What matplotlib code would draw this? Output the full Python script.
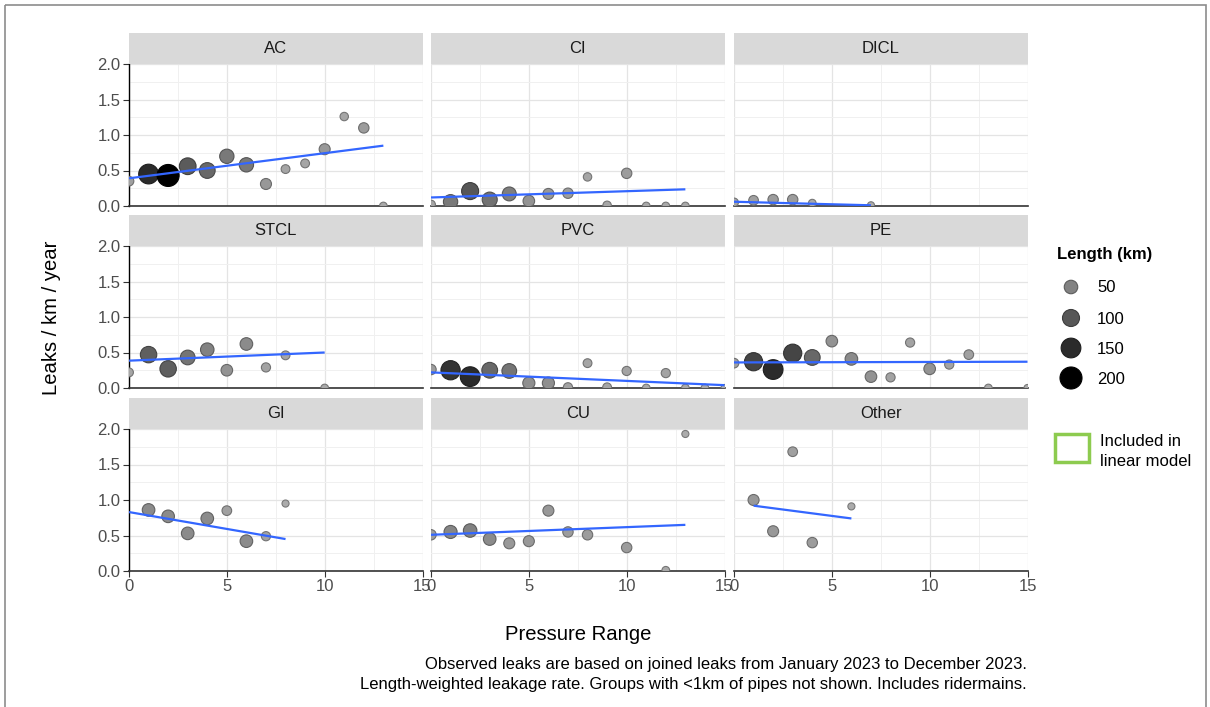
import numpy as np
import pandas as pd
import matplotlib
matplotlib.use("Agg")
import matplotlib.pyplot as plt
from matplotlib.patches import Rectangle
from matplotlib.ticker import FormatStrFormatter

plt.rcParams['font.family'] = ['Liberation Sans', 'DejaVu Sans']

# ---- leak rates by pipe material: pressure range, leaks/km/yr, length (km) ----
ac_x   = [0, 1, 2, 3, 4, 5, 6, 7, 8, 9, 10, 11, 12, 13]
ac_y   = [0.35, 0.45, 0.43, 0.56, 0.50, 0.70, 0.58, 0.31, 0.52, 0.60, 0.80, 1.26, 1.10, 0.0]
ac_len = [15, 150, 200, 95, 80, 60, 60, 25, 10, 10, 25, 8, 20, 5]

ci_x   = [0, 1, 2, 3, 4, 5, 6, 7, 8, 9, 10, 11, 12, 13]
ci_y   = [0.02, 0.06, 0.21, 0.09, 0.17, 0.07, 0.17, 0.18, 0.41, 0.01, 0.46, 0.0, 0.0, 0.0]
ci_len = [10, 60, 100, 70, 55, 30, 25, 20, 8, 8, 20, 5, 5, 5]

dicl_x   = [0, 1, 2, 3, 4, 7]
dicl_y   = [0.05, 0.08, 0.09, 0.09, 0.04, 0.01]
dicl_len = [10, 15, 20, 20, 5, 3]

stcl_x   = [0, 1, 2, 3, 4, 5, 6, 7, 8, 10]
stcl_y   = [0.22, 0.47, 0.27, 0.43, 0.54, 0.25, 0.62, 0.29, 0.46, 0.0]
stcl_len = [10, 90, 90, 65, 50, 30, 40, 12, 10, 5]

pvc_x   = [0, 1, 2, 3, 4, 5, 6, 7, 8, 9, 10, 11, 12, 13, 14, 15]
pvc_y   = [0.26, 0.25, 0.16, 0.25, 0.24, 0.07, 0.07, 0.01, 0.35, 0.01, 0.24, 0.0, 0.21, 0.0, 0.0, 0.0]
pvc_len = [20, 140, 150, 80, 65, 35, 35, 12, 10, 10, 12, 5, 12, 5, 5, 3]

pe_x   = [0, 1, 2, 3, 4, 5, 6, 7, 8, 9, 10, 11, 12, 13, 15]
pe_y   = [0.35, 0.37, 0.26, 0.49, 0.43, 0.66, 0.41, 0.16, 0.15, 0.64, 0.27, 0.33, 0.47, 0.0, 0.0]
pe_len = [15, 120, 150, 120, 80, 30, 40, 30, 12, 12, 30, 12, 15, 5, 3]

gi_x   = [1, 2, 3, 4, 5, 6, 7, 8]
gi_y   = [0.86, 0.77, 0.53, 0.74, 0.85, 0.42, 0.49, 0.95]
gi_len = [40, 40, 40, 40, 15, 40, 12, 3]

cu_x   = [0, 1, 2, 3, 4, 5, 6, 7, 8, 10, 12, 13]
cu_y   = [0.51, 0.55, 0.57, 0.45, 0.39, 0.42, 0.85, 0.55, 0.51, 0.33, 0.01, 1.93]
cu_len = [20, 45, 50, 40, 25, 25, 25, 20, 20, 20, 5, 3]

other_x   = [1, 2, 3, 4, 6]
other_y   = [1.00, 0.56, 1.68, 0.40, 0.91]
other_len = [25, 25, 15, 20, 3]

materials = ["AC", "CI", "DICL", "STCL", "PVC", "PE", "GI", "CU", "Other"]

# weighted linear fit, start/end of each line
fit_x0 = [0, 0, 0, 0, 0, 0, 0, 0, 1]
fit_x1 = [13, 13, 7, 10, 15, 15, 8, 13, 6]
fit_y0 = [0.39, 0.12, 0.06, 0.385, 0.22, 0.36, 0.83, 0.51, 0.92]
fit_y1 = [0.85, 0.235, 0.01, 0.50, 0.04, 0.37, 0.45, 0.65, 0.74]

legend_lengths = [50, 100, 150, 200]

frames = []
for m, xs, ys, ls in [("AC", ac_x, ac_y, ac_len), ("CI", ci_x, ci_y, ci_len),
                      ("DICL", dicl_x, dicl_y, dicl_len), ("STCL", stcl_x, stcl_y, stcl_len),
                      ("PVC", pvc_x, pvc_y, pvc_len), ("PE", pe_x, pe_y, pe_len),
                      ("GI", gi_x, gi_y, gi_len), ("CU", cu_x, cu_y, cu_len),
                      ("Other", other_x, other_y, other_len)]:
    frames.append(pd.DataFrame({"material": m, "pressure": xs, "rate": ys, "length": ls}))
df = pd.concat(frames, ignore_index=True)

# ---- size / colour scales for length ----
def size_px(length):
    return 5 + 17 * np.sqrt(np.asarray(length, dtype=float) / 200.0)

def marker_s(length):
    return (size_px(length) * 0.72) ** 2

def fill_col(length):
    g = 0.68 * (1 - np.clip(np.asarray(length, dtype=float) / 200.0, 0, 1))
    return np.stack([g, g, g], axis=-1)

def edge_col(length):
    g = 0.68 * (1 - np.clip(np.asarray(length, dtype=float) / 200.0, 0, 1)) * 0.7
    return np.stack([g, g, g], axis=-1)

W, H = 1210, 707
fig = plt.figure(figsize=(W / 100, H / 100), dpi=100)
fig.patch.set_facecolor("white")

def px_axes(left, top, width, height):
    return fig.add_axes([left / W, 1 - (top + height) / H, width / W, height / H])

col_left = [129, 431, 734]
row_top = [64, 246, 429]
pw, ph, strip_h = 293.5, 142, 31

for i, mat in enumerate(materials):
    r, c = divmod(i, 3)
    ax = px_axes(col_left[c], row_top[r], pw, ph)
    sub = df[df["material"] == mat]

    ax.set_xlim(0, 15)
    ax.set_ylim(0, 2)
    ax.set_xticks([0, 5, 10, 15])
    ax.set_xticks([2.5, 7.5, 12.5], minor=True)
    ax.set_yticks([0, 0.5, 1.0, 1.5, 2.0])
    ax.set_yticks([0.25, 0.75, 1.25, 1.75], minor=True)
    ax.yaxis.set_major_formatter(FormatStrFormatter('%.1f'))
    ax.grid(which='major', color='#E4E4E4', lw=0.9)
    ax.grid(which='minor', color='#F0F0F0', lw=0.7)
    ax.set_axisbelow(True)

    for s in ["top", "right"]:
        ax.spines[s].set_visible(False)
    ax.spines["bottom"].set_color("#333333")
    ax.spines["bottom"].set_linewidth(1.2)
    if c == 0:
        ax.spines["left"].set_color("#000000")
        ax.spines["left"].set_linewidth(1.0)
        ax.tick_params(axis='y', which='major', length=4, width=0.8, color='#333333',
                       labelsize=12, labelcolor='#4D4D4D', pad=2)
    else:
        ax.spines["left"].set_visible(False)
        ax.tick_params(axis='y', which='major', length=0, labelleft=False)
    if r == 2:
        ax.tick_params(axis='x', which='major', length=4, width=0.8, color='#333333',
                       labelsize=12, labelcolor='#4D4D4D', pad=2)
    else:
        ax.tick_params(axis='x', which='major', length=0, labelbottom=False)
    ax.tick_params(which='minor', length=0)

    ax.scatter(sub["pressure"], sub["rate"], s=marker_s(sub["length"]),
               c=fill_col(sub["length"]), edgecolors=edge_col(sub["length"]),
               linewidths=0.8, zorder=3)
    ax.plot([fit_x0[i], fit_x1[i]], [fit_y0[i], fit_y1[i]], color='#3366FF',
            lw=1.6, solid_capstyle='butt', zorder=4)

    st = px_axes(col_left[c], row_top[r] - strip_h, pw, strip_h)
    st.set_facecolor('#D9D9D9')
    st.set_xticks([])
    st.set_yticks([])
    for s in st.spines.values():
        s.set_visible(False)
    st.text(0.5, 0.5, mat, ha='center', va='center', fontsize=12, color='#1A1A1A',
            transform=st.transAxes)

# ---- overlay for titles, legend, caption, border ----
ov = fig.add_axes([0, 0, 1, 1])
ov.set_xlim(0, W)
ov.set_ylim(H, 0)
ov.axis('off')

ov.add_patch(Rectangle((4.5, 4.5), W - 8.5, H + 10, fill=False, edgecolor='#8C8C8C', lw=1.2))

ov.text(52, 318, "Leaks / km / year", rotation=90, ha='center', va='center',
        fontsize=14.6, color='#000000')
ov.text(578, 634, "Pressure Range", ha='center', va='center', fontsize=14.6, color='#000000')
ov.text(1027, 664, "Observed leaks are based on joined leaks from January 2023 to December 2023.",
        ha='right', va='center', fontsize=12, color='#000000')
ov.text(1027, 684, "Length-weighted leakage rate. Groups with <1km of pipes not shown. Includes ridermains.",
        ha='right', va='center', fontsize=12, color='#000000')

ov.text(1057, 255, "Length (km)", ha='left', va='center', fontsize=12, fontweight='bold',
        color='#000000')
leg_y = [287, 318, 348, 378]
ov.scatter([1071] * len(legend_lengths), leg_y, s=marker_s(legend_lengths),
           c=fill_col(legend_lengths), edgecolors=edge_col(legend_lengths), linewidths=0.8)
for yy, lab in zip(leg_y, legend_lengths):
    ov.text(1097, yy + 1, str(lab), ha='left', va='center', fontsize=12, color='#000000')

ov.add_patch(Rectangle((1055, 434), 34, 28, fill=False, edgecolor='#8DCB4F', lw=2.5))
ov.text(1100, 441, "Included in", ha='left', va='center', fontsize=12, color='#000000')
ov.text(1100, 462, "linear model", ha='left', va='center', fontsize=12, color='#000000')

fig.savefig("out.png", dpi=100)
